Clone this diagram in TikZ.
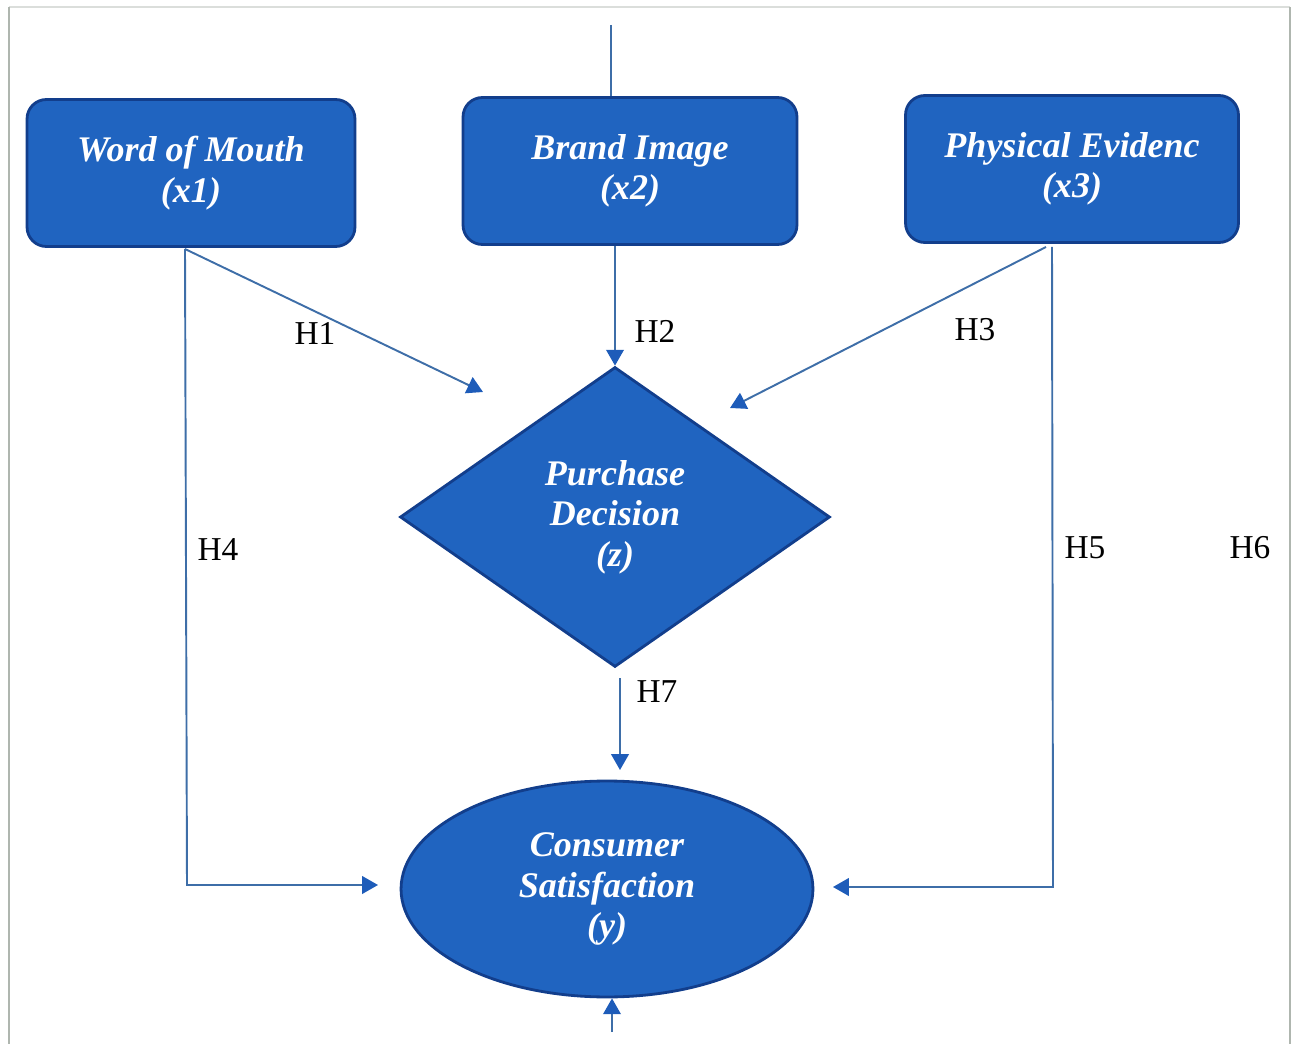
\documentclass[tikz,border=0pt]{standalone}
\usepackage{fontspec}
\setmainfont{Liberation Serif}[BoldItalicFont={Liberation Serif Bold Italic}]
\usetikzlibrary{shapes.geometric,arrows.meta}
\definecolor{boxblue}{RGB}{32,100,192}
\definecolor{edgeblue}{RGB}{18,62,140}
\definecolor{lineblue}{RGB}{62,110,168}
\definecolor{tipblue}{RGB}{30,92,185}
\definecolor{framegray}{RGB}{175,182,175}

\tikzset{
 varbox/.style={rectangle,rounded corners=11pt,draw=edgeblue,line width=1.6pt,fill=boxblue,
  text=white,font=\fontsize{20.5}{23}\selectfont\bfseries\itshape,align=center,minimum height=2.94cm},
 link/.style={draw=lineblue,line width=1.1pt},
 linkarrow/.style={link,-{Triangle[width=10pt,length=9pt,color=tipblue]}},
 hlabel/.style={font=\fontsize{19}{22}\selectfont}
}

\begin{document}
\begin{tikzpicture}[x=0.02cm,y=-0.02cm]
 \useasboundingbox (0,0) rectangle (1296,1044);
 % frame
 \draw[framegray!45,line width=0.8pt] (9,7)--(1290,7);
 \draw[framegray,line width=1.6pt] (9,7)--(9,1044);
 \draw[framegray,line width=1.6pt] (1290,7)--(1290,1044);

 % variables
 \node[varbox,minimum width=6.56cm] (x1) at (191,173) {Word of Mouth\\(x1)};
 \node[varbox,minimum width=6.68cm] (x2) at (630,171) {Brand Image\\(x2)};
 \node[varbox,minimum width=6.66cm] (x3) at (1072,169) {Physical Evidenc\\(x3)};
 \node[diamond,draw=edgeblue,line width=1.6pt,fill=boxblue,text=white,
  font=\fontsize{20.5}{23}\selectfont\bfseries\itshape,align=center,
  shape aspect=1.43,minimum width=8.6cm,minimum height=6cm,inner sep=0pt] (pd) at (615,517)
  {Purchase\\Decision\\(z)};
 \node[ellipse,draw=edgeblue,line width=1.6pt,fill=boxblue,text=white,
  font=\fontsize{20.5}{23}\selectfont\bfseries\itshape,align=center,
  minimum width=8.24cm,minimum height=4.32cm,inner sep=0pt] (cs) at (607,889)
  {Consumer\\Satisfaction\\(y)};

 % free ends
 \coordinate (top) at (611,25);
 \coordinate (bottom) at (612,1032);
 \coordinate (x1out) at (185,249);
 \coordinate (x3out) at (1046,247);
 \coordinate (x3down) at (1052,247);
 \coordinate (h1end) at (483,392);
 \coordinate (h3end) at (730,408);
 \coordinate (h4corner) at (187,885);
 \coordinate (h4end) at (378,885);
 \coordinate (h5corner) at (1053,887);
 \coordinate (h5end) at (833,887);
 \coordinate (h7start) at (620,678);
 \coordinate (h7end) at (620,770);

 % connectors
 \draw[link] (top)--(top |- x2.north);
 \draw[linkarrow] (x2.south -| pd.north)--(pd.north);
 \draw[linkarrow] (x1out)--(h1end);
 \draw[linkarrow] (x3out)--(h3end);
 \draw[linkarrow] (x1out)--(h4corner)--(h4end);
 \draw[linkarrow] (x3down)--(h5corner)--(h5end);
 \draw[linkarrow] (h7start)--(h7end);
 \draw[linkarrow] (bottom)--(bottom |- cs.south);

 % labels
 \node[hlabel] (l1) at (315,333) {H1};
 \node[hlabel] (l2) at (655,331) {H2};
 \node[hlabel] (l3) at (975,330) {H3};
 \node[hlabel] (l4) at (218,550) {H4};
 \node[hlabel] (l5) at (1085,548) {H5};
 \node[hlabel] (l6) at (1250,548) {H6};
 \node[hlabel] (l7) at (657,692) {H7};
\end{tikzpicture}
\end{document}
